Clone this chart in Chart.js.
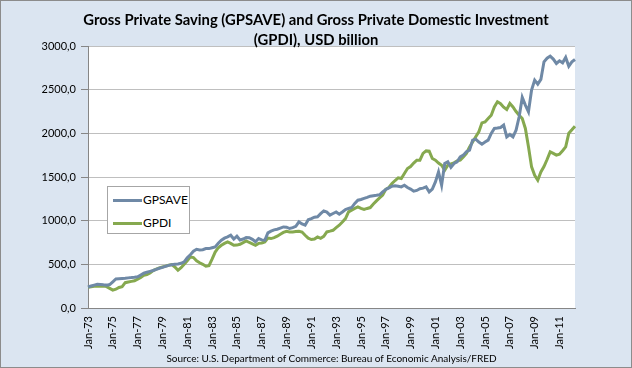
<!DOCTYPE html>
<html>
<head>
<meta charset="utf-8">
<script src="https://cdn.jsdelivr.net/npm/chart.js@4.4.0/dist/chart.umd.min.js"></script>
<style>
    html, body { margin: 0; padding: 0; }
    body { width: 632px; height: 368px; overflow: hidden; }
    #wrap {
        position: relative;
        width: 632px;
        height: 368px;
        background: #DBE5F1;
        font-family: Lato, 'Open Sans', sans-serif;
    }
    #frame {
        position: absolute; left: 0; top: 0; right: 0; bottom: 0;
        border: 1px solid #8C8C8C;
        pointer-events: none;
    }
    canvas { position: absolute; left: 0; top: 0; }
    .title {
        position: absolute; left: 0; width: 632px;
        text-align: center; font-weight: bold; font-size: 14.8px; color: #000;
        white-space: nowrap;
    }
    #source {
        position: absolute; left: 88px; width: 487px; top: 352px;
        text-align: center; font-size: 10px; color: #000; white-space: nowrap;
    }
    #legend {
        position: absolute; left: 107px; top: 186px; width: 83px; height: 48px;
        box-sizing: border-box; background: #fff; border: 1px solid #A6A6A6;
        font-size: 12px; color: #000;
    }
    .item { position: absolute; left: 5px; height: 16px; line-height: 16px; }
    .swatch { display: inline-block; width: 29px; height: 3px; vertical-align: middle; margin-right: 1px; }
</style>
</head>
<body>
<div id="wrap">
    <canvas id="chart" width="632" height="368"></canvas>
    <div class="title" style="top: 10px;">Gross Private Saving (GPSAVE) and Gross Private Domestic Investment</div>
    <div class="title" style="top: 30px;">(GPDI), USD billion</div>
    <div id="legend">
        <div class="item" style="top: 5px;"><span class="swatch" style="background:#6F89A6"></span>GPSAVE</div>
        <div class="item" style="top: 28px;"><span class="swatch" style="background:#86A94F"></span>GPDI</div>
    </div>
    <div id="source">Source: U.S. Department of Commerce: Bureau of Economic Analysis/FRED</div>
    <div id="frame"></div>
</div>
<script>
// quarterly observations, 1973Q1 .. 2012Q2
const firstYear = 1973;
const quarterMonths = ['Jan', 'Apr', 'Jul', 'Oct'];

const gpsave = [
    240, 252, 262, 272,   270, 265, 262, 268,   300, 332, 335, 338,   340, 345, 348, 352,
    358, 378, 398, 410,   420, 430, 442, 455,   465, 476, 488, 495,   500, 504, 512, 528,
    575, 610, 650, 672,   665, 668, 680, 680,   690, 700, 742, 776,   800, 815, 833, 790,
    822, 778, 790, 806,   805, 786, 758, 795,   780, 776, 860, 880,   895, 902, 915, 928,
    926, 910, 920, 935,   986, 962, 948, 1010,  1024, 1040, 1045, 1080, 1112, 1098, 1064, 1082,
    1100, 1074, 1100, 1128, 1140, 1150, 1198, 1234, 1242, 1255, 1266, 1280, 1285, 1290, 1296, 1330,
    1357, 1376, 1395, 1400, 1395, 1387, 1406, 1380, 1362, 1337, 1346, 1365, 1372, 1387, 1330, 1362,
    1444, 1558, 1406, 1655, 1674, 1610, 1655, 1674, 1731, 1750, 1790, 1807, 1922, 1933, 1900, 1876,
    1900, 1922, 1999, 2056, 2060, 2067, 2094, 1960, 1987, 1960, 2036, 2189, 2411, 2323, 2246, 2495,
    2609, 2563, 2617, 2819, 2860, 2884, 2850, 2800, 2830, 2807, 2869, 2769, 2819, 2846
];

const gpdi = [
    238, 244, 250, 252,   250, 252, 245, 225,   205, 215, 235, 245,   290, 298, 305, 312,
    330, 350, 374, 382,   400, 428, 445, 460,   470, 480, 490, 497,   470, 432, 462, 500,
    540, 585, 578, 540,   518, 500, 478, 485,   560, 640, 690, 718,   740, 757, 740, 718,
    720, 730, 748, 768,   750, 735, 718, 740,   745, 757, 800, 795,   805, 822, 845, 865,
    879, 870, 871, 876,   879, 870, 833, 800,   784, 790, 814, 798,   820, 871, 880, 890,
    920, 948, 985, 1024,  1101, 1120, 1140, 1158, 1140, 1128, 1140, 1150, 1190, 1227, 1260, 1292,
    1360, 1380, 1425, 1460, 1490, 1482, 1540, 1597, 1620, 1660, 1693, 1693, 1770, 1799, 1795, 1712,
    1693, 1660, 1635, 1578, 1635, 1650, 1662, 1685, 1693, 1730, 1769, 1845, 1900, 1960, 2017, 2120,
    2131, 2170, 2208, 2303, 2361, 2340, 2300, 2273, 2342, 2303, 2250, 2208, 2170, 2056, 1845, 1616,
    1520, 1463, 1558, 1620, 1700, 1788, 1770, 1750, 1760, 1800, 1845, 2000, 2040, 2082
];

const labels = gpsave.map(function(v, i) {
    const year = firstYear + Math.floor(i / 4);
    return quarterMonths[i % 4] + '-' + String(year).slice(2);
});

// white plot area like the Excel original
const plotBackground = {
    id: 'plotBackground',
    beforeDraw(chart) {
        const a = chart.chartArea;
        const ctx = chart.ctx;
        ctx.save();
        ctx.fillStyle = '#FFFFFF';
        ctx.fillRect(a.left, a.top, a.right - a.left, a.bottom - a.top);
        ctx.restore();
    }
};

Chart.defaults.font.family = 'Lato, "Open Sans", sans-serif';
Chart.defaults.color = '#000';

const ctx = document.getElementById('chart').getContext('2d');
new Chart(ctx, {
    type: 'line',
    data: {
        labels: labels,
        datasets: [{
            label: 'GPSAVE',
            data: gpsave,
            borderColor: '#6F89A6',
            borderWidth: 3,
            pointRadius: 0,
            tension: 0,
            fill: false
        }, {
            label: 'GPDI',
            data: gpdi,
            borderColor: '#86A94F',
            borderWidth: 3,
            pointRadius: 0,
            tension: 0,
            fill: false
        }]
    },
    options: {
        responsive: false,
        animation: false,
        layout: {
            padding: { left: 0, top: 46, right: 57, bottom: 0 }
        },
        plugins: {
            legend: { display: false },
            title: { display: false },
            tooltip: { enabled: false }
        },
        scales: {
            x: {
                offset: false,
                afterFit: function(scale) { scale.height = 60; },
                border: { color: '#868686', width: 1 },
                grid: { drawOnChartArea: false, drawTicks: false },
                ticks: {
                    autoSkip: false,
                    minRotation: 90,
                    maxRotation: 90,
                    padding: 8,
                    font: { size: 11 },
                    callback: function(value, index) {
                        return index % 8 === 0 ? this.getLabelForValue(value) : '';
                    }
                }
            },
            y: {
                min: 0,
                max: 3000,
                afterFit: function(scale) { scale.width = 88; },
                border: { color: '#868686', width: 1 },
                grid: {
                    color: '#BFBFBF',
                    tickColor: '#868686',
                    tickLength: 7
                },
                ticks: {
                    stepSize: 500,
                    padding: 5,
                    font: { size: 11 },
                    callback: function(value) {
                        return value.toFixed(1).replace('.', ',');
                    }
                }
            }
        }
    },
    plugins: [plotBackground]
});
</script>
</body>
</html>
